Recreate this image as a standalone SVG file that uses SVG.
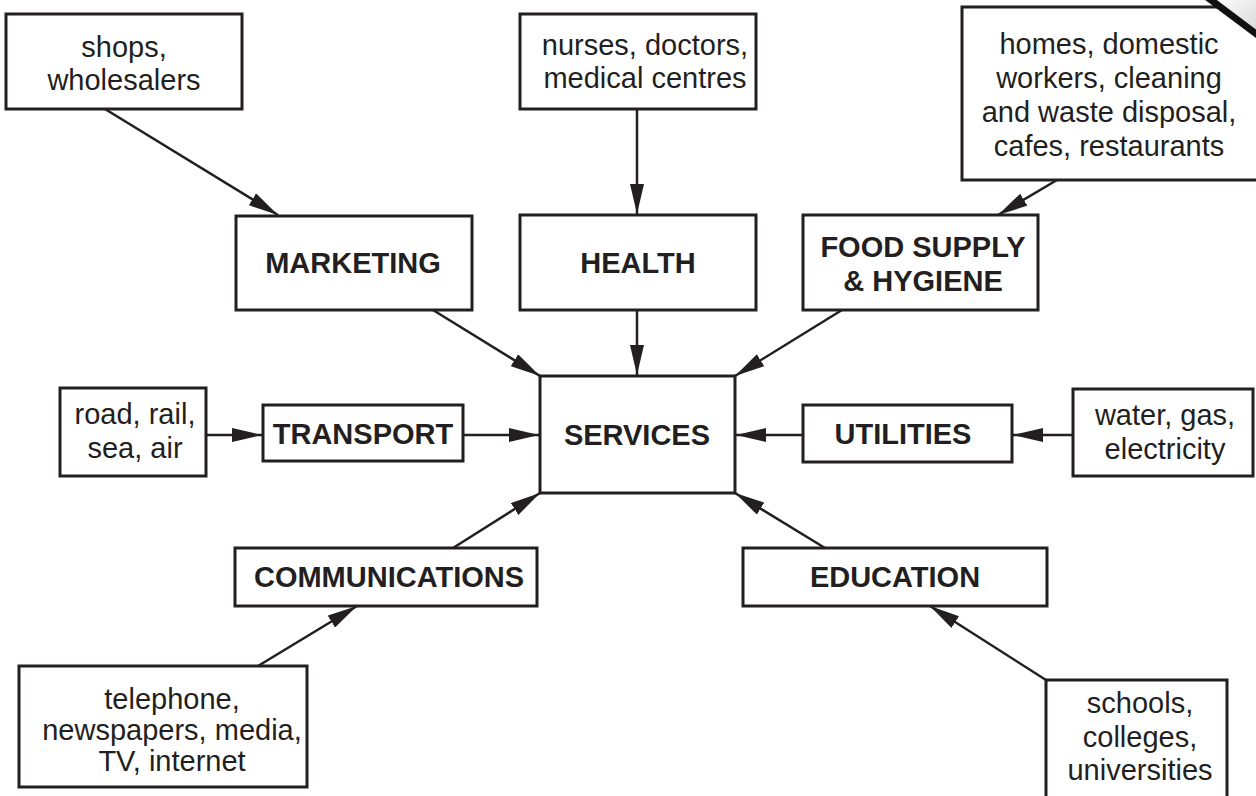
<svg xmlns="http://www.w3.org/2000/svg" width="1256" height="796" viewBox="0 0 1256 796">
  <defs>
    <style>
      .box { fill: #fff; stroke: #231f20; stroke-width: 3; }
      .t { font-family: "Liberation Sans", Arial, sans-serif; font-size: 29px; fill: #231f20; text-anchor: middle; }
      .b { font-weight: bold; }
      .c { stroke: #231f20; stroke-width: 2.5; fill: none; marker-end: url(#ah); }
    </style>
    <marker id="ah" markerUnits="userSpaceOnUse" markerWidth="30" markerHeight="14" refX="30" refY="7" orient="auto" viewBox="0 0 30 14">
      <path d="M0,0 L30,7 L0,14 Z" fill="#231f20"/>
    </marker>
    <linearGradient id="fold" x1="0" y1="0" x2="1" y2="1">
      <stop offset="0" stop-color="#ffffff"/>
      <stop offset="1" stop-color="#d8d8d8"/>
    </linearGradient>
  </defs>
  <rect width="1256" height="796" fill="#fff"/>

  <g id="connectors">
    <line class="c" x1="105" y1="109" x2="278" y2="215"/>
    <line class="c" x1="637" y1="109" x2="637" y2="214"/>
    <line class="c" x1="1057" y1="180" x2="998" y2="215"/>
    <line class="c" x1="433" y1="310" x2="540" y2="376"/>
    <line class="c" x1="637" y1="310" x2="637" y2="375"/>
    <line class="c" x1="842" y1="310" x2="735" y2="376"/>
    <line class="c" x1="206" y1="435" x2="262" y2="435"/>
    <line class="c" x1="463" y1="435" x2="539" y2="435"/>
    <line class="c" x1="1073" y1="435" x2="1013" y2="435"/>
    <line class="c" x1="803" y1="435" x2="736" y2="435"/>
    <line class="c" x1="453" y1="548" x2="540" y2="493"/>
    <line class="c" x1="258" y1="666" x2="357" y2="606"/>
    <line class="c" x1="825" y1="548" x2="735" y2="493"/>
    <line class="c" x1="1046" y1="680" x2="930" y2="606"/>
  </g>

  <g id="shops">
    <rect class="box" x="6" y="14" width="236" height="95"/>
    <text class="t" x="124" y="57">shops,</text>
    <text class="t" x="124" y="90">wholesalers</text>
  </g>
  <g id="nurses">
    <rect class="box" x="520" y="14" width="236" height="95"/>
    <text class="t" x="645" y="55">nurses, doctors,</text>
    <text class="t" x="645" y="88">medical centres</text>
  </g>
  <g id="homes">
    <rect class="box" x="962" y="7" width="296" height="173"/>
    <text class="t" x="1109" y="54">homes, domestic</text>
    <text class="t" x="1109" y="88">workers, cleaning</text>
    <text class="t" x="1109" y="122">and waste disposal,</text>
    <text class="t" x="1109" y="156">cafes, restaurants</text>
  </g>
  <g id="fold-corner">
    <polygon points="1210,-2 1258,-2 1258,33" fill="url(#fold)"/>
    <line x1="1207" y1="-3" x2="1259" y2="36" stroke="#111" stroke-width="7"/>
  </g>
  <g id="marketing">
    <rect class="box" x="236" y="216" width="236" height="94"/>
    <text class="t b" x="353" y="273">MARKETING</text>
  </g>
  <g id="health">
    <rect class="box" x="520" y="215" width="236" height="95"/>
    <text class="t b" x="638" y="273">HEALTH</text>
  </g>
  <g id="food">
    <rect class="box" x="803" y="215" width="235" height="95"/>
    <text class="t b" x="923" y="257">FOOD SUPPLY</text>
    <text class="t b" x="923" y="291">&amp; HYGIENE</text>
  </g>
  <g id="services">
    <rect class="box" x="540" y="376" width="195" height="117"/>
    <text class="t b" x="637" y="445">SERVICES</text>
  </g>
  <g id="road">
    <rect class="box" x="60" y="388" width="146" height="88"/>
    <text class="t" x="135" y="424">road, rail,</text>
    <text class="t" x="135" y="458">sea, air</text>
  </g>
  <g id="transport">
    <rect class="box" x="263" y="405" width="200" height="56"/>
    <text class="t b" x="363" y="444">TRANSPORT</text>
  </g>
  <g id="utilities">
    <rect class="box" x="803" y="405" width="209" height="57"/>
    <text class="t b" x="903" y="444">UTILITIES</text>
  </g>
  <g id="water">
    <rect class="box" x="1073" y="389" width="180" height="87"/>
    <text class="t" x="1165" y="425">water, gas,</text>
    <text class="t" x="1165" y="459">electricity</text>
  </g>
  <g id="communications">
    <rect class="box" x="235" y="548" width="302" height="58"/>
    <text class="t b" x="389" y="587">COMMUNICATIONS</text>
  </g>
  <g id="education">
    <rect class="box" x="743" y="548" width="304" height="58"/>
    <text class="t b" x="895" y="587">EDUCATION</text>
  </g>
  <g id="telephone">
    <rect class="box" x="19" y="666" width="288" height="121"/>
    <text class="t" x="172" y="709">telephone,</text>
    <text class="t" x="172" y="740">newspapers, media,</text>
    <text class="t" x="172" y="771">TV, internet</text>
  </g>
  <g id="schools">
    <rect class="box" x="1046" y="680" width="181" height="130"/>
    <text class="t" x="1140" y="713">schools,</text>
    <text class="t" x="1140" y="747">colleges,</text>
    <text class="t" x="1140" y="780">universities</text>
  </g>
</svg>
